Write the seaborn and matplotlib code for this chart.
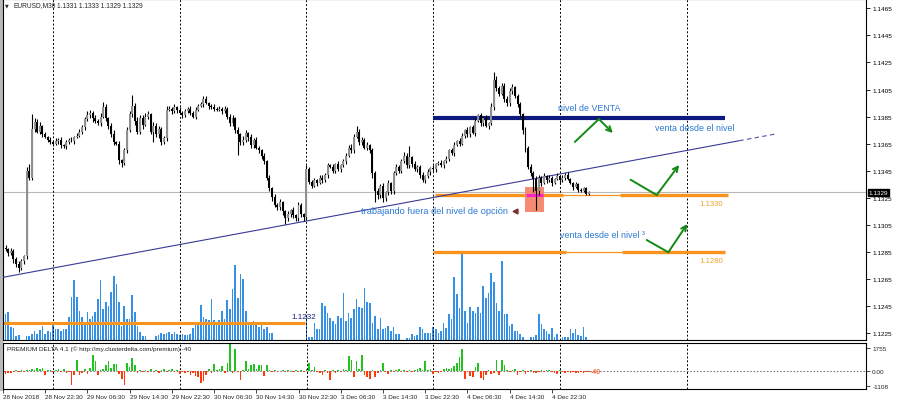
import numpy as np
import pandas as pd
import matplotlib
matplotlib.use("Agg")
import matplotlib.pyplot as plt
import matplotlib.transforms as mtransforms
from matplotlib.patches import Rectangle
import seaborn as sns

# ---------------- data (EURUSD M30, bar index 0 = 28 Nov 15:00) ----------------
first_open = 1.1288
close = [
    1.1287, 1.1284, 1.1286, 1.1280, 1.1276, 1.1273, 1.1278, 1.1282, 1.1345, 1.1340,
    1.1376, 1.1381, 1.1374, 1.1378, 1.1372, 1.1370, 1.1368, 1.1366, 1.1365, 1.1367,
    1.1368, 1.1364, 1.1363, 1.1366, 1.1368, 1.1367, 1.1370, 1.1371, 1.1374, 1.1377,
    1.1383, 1.1386, 1.1388, 1.1384, 1.1382, 1.1380, 1.1385, 1.1392, 1.1384, 1.1378,
    1.1372, 1.1366, 1.1365, 1.1353, 1.1351, 1.1360, 1.1375, 1.1387, 1.1393, 1.1382,
    1.1374, 1.1384, 1.1379, 1.1385, 1.1387, 1.1374, 1.1378, 1.1372, 1.1376, 1.1366,
    1.1369, 1.1390, 1.1391, 1.1389, 1.1392, 1.1390, 1.1388, 1.1386, 1.1389, 1.1391,
    1.1388, 1.1385, 1.1390, 1.1393, 1.1394, 1.1398, 1.1395, 1.1393, 1.1392, 1.1391,
    1.1390, 1.1391, 1.1389, 1.1391, 1.1385, 1.1380, 1.1384, 1.1375, 1.1372, 1.1366,
    1.1368, 1.1373, 1.1370, 1.1364, 1.1368, 1.1362, 1.1360, 1.1356, 1.1352, 1.1340,
    1.1332, 1.1326, 1.1320, 1.1318, 1.1322, 1.1315, 1.1310, 1.1313, 1.1316, 1.1312,
    1.1310, 1.1320, 1.1313, 1.1311, 1.1346, 1.1337, 1.1334, 1.1338, 1.1336, 1.1340,
    1.1338, 1.1342, 1.1349, 1.1348, 1.1345, 1.1350, 1.1346, 1.1349, 1.1352, 1.1356,
    1.1362, 1.1360, 1.1370, 1.1374, 1.1366, 1.1368, 1.1362, 1.1364, 1.1360, 1.1343,
    1.1330, 1.1327, 1.1334, 1.1325, 1.1329, 1.1336, 1.1330, 1.1343, 1.1348, 1.1345,
    1.1352, 1.1356, 1.1349, 1.1355, 1.1350, 1.1346, 1.1348, 1.1342, 1.1338, 1.1341,
    1.1344, 1.1347, 1.1346, 1.1350, 1.1351, 1.1349, 1.1352, 1.1354, 1.1360, 1.1358,
    1.1364, 1.1367, 1.1365, 1.1371, 1.1375, 1.1372, 1.1377, 1.1373, 1.1382, 1.1386,
    1.1380, 1.1384, 1.1378, 1.1380, 1.1392, 1.1412, 1.1406, 1.1402, 1.1408, 1.1398,
    1.1395, 1.1404, 1.1407, 1.1400, 1.1394, 1.1387, 1.1375, 1.1362, 1.1348, 1.1343,
    1.1339, 1.1330, 1.1340, 1.1336, 1.1341, 1.1338, 1.1340, 1.1336, 1.1339, 1.1341,
    1.1338, 1.1340, 1.1342, 1.1339, 1.1336, 1.1333, 1.1335, 1.1331, 1.1330, 1.1332,
    1.1328, 1.1329,
]
wick_up_pips = [
    2, 1, 2, 1, 1, 2, 2, 1, 3, 5, 11, 3, 2, 3, 1, 2, 1, 2, 1, 2,
    1, 2, 1, 2, 1, 2, 1, 2, 2, 2, 2, 3, 2, 1, 2, 1, 3, 4, 2, 1,
    2, 3, 1, 2, 1, 2, 2, 2, 8, 2, 3, 2, 2, 3, 2, 1, 3, 2, 2, 1,
    2, 3, 2, 1, 2, 1, 2, 1, 2, 1, 2, 1, 2, 1, 2, 2, 2, 1, 1, 2,
    1, 2, 1, 2, 1, 2, 2, 1, 2, 1, 3, 2, 1, 2, 1, 2, 1, 1, 2, 1,
    2, 1, 2, 1, 2, 1, 1, 2, 1, 2, 1, 2, 1, 1, 3, 2, 1, 2, 1, 2,
    2, 1, 2, 1, 2, 1, 2, 1, 2, 2, 2, 3, 2, 4, 2, 2, 1, 2, 1, 2,
    2, 2, 1, 2, 1, 2, 1, 2, 2, 1, 2, 3, 2, 8, 1, 2, 1, 1, 2, 1,
    2, 1, 2, 1, 1, 2, 1, 2, 1, 2, 2, 1, 2, 2, 1, 2, 1, 2, 2, 1,
    2, 1, 2, 1, 3, 6, 3, 2, 2, 2, 2, 2, 2, 1, 2, 2, 1, 2, 1, 2,
    2, 2, 2, 1, 2, 1, 2, 1, 1, 2, 1, 2, 1, 2, 1, 1, 2, 1, 1, 1,
    1, 1,
]
wick_dn_pips = [
    1, 2, 1, 3, 2, 3, 1, 2, 2, 2, 2, 2, 1, 2, 2, 1, 2, 1, 2, 1,
    2, 2, 1, 2, 1, 1, 2, 1, 1, 2, 2, 1, 2, 3, 2, 1, 2, 1, 2, 2,
    2, 2, 1, 3, 3, 2, 2, 1, 2, 3, 2, 2, 3, 1, 2, 2, 8, 2, 3, 2,
    1, 2, 1, 2, 1, 2, 1, 2, 1, 1, 2, 1, 2, 1, 1, 2, 1, 2, 1, 2,
    1, 1, 2, 1, 2, 2, 2, 2, 15, 2, 2, 2, 3, 2, 2, 1, 2, 2, 2, 2,
    2, 3, 2, 2, 2, 3, 4, 2, 2, 2, 2, 2, 2, 3, 2, 2, 2, 1, 2, 1,
    2, 1, 2, 1, 2, 2, 1, 2, 1, 2, 1, 2, 2, 1, 2, 2, 1, 2, 2, 3,
    8, 3, 2, 3, 2, 2, 2, 2, 1, 2, 2, 1, 2, 2, 2, 1, 2, 2, 1, 2,
    1, 2, 1, 2, 1, 1, 2, 1, 2, 1, 2, 1, 2, 1, 2, 2, 2, 1, 2, 1,
    2, 2, 1, 2, 1, 2, 2, 2, 1, 2, 2, 2, 2, 1, 2, 2, 3, 3, 2, 2,
    10, 14, 3, 2, 1, 2, 1, 2, 1, 1, 2, 1, 2, 1, 1, 2, 1, 2, 1, 1,
    1, 1,
]
volume = [
    26, 28, 13, 12, 4, 5, 0, 0, 4, 4,
    6, 9, 6, 10, 14, 6, 9, 8, 15, 11,
    11, 9, 11, 11, 23, 43, 60, 43, 29, 23,
    18, 28, 21, 24, 28, 41, 60, 31, 38, 34,
    48, 64, 56, 38, 14, 34, 21, 21, 45, 28,
    14, 8, 4, 4, 0, 0, 0, 4, 5, 7,
    6, 7, 8, 6, 8, 6, 5, 6, 5, 5,
    6, 12, 17, 18, 35, 23, 21, 20, 41, 20,
    18, 20, 29, 21, 40, 31, 51, 75, 42, 66,
    61, 29, 18, 17, 19, 15, 13, 18, 11, 13,
    7, 7, 0, 0, 0, 0, 0, 0, 0, 0,
    0, 0, 0, 0, 24, 3, 3, 17, 11, 11,
    37, 34, 27, 22, 19, 16, 24, 22, 47, 19,
    27, 22, 31, 41, 33, 32, 52, 38, 37, 17,
    24, 11, 22, 11, 12, 14, 9, 13, 6, 6,
    0, 0, 2, 2, 6, 4, 5, 13, 11, 7,
    7, 7, 13, 11, 7, 9, 17, 12, 26, 21,
    63, 46, 32, 87, 29, 17, 33, 29, 27, 33,
    27, 54, 42, 47, 67, 58, 37, 29, 79, 26,
    26, 14, 16, 9, 9, 6, 3, 0, 0, 3,
    3, 5, 26, 16, 11, 9, 6, 12, 3, 6,
    0, 3, 3, 3, 11, 7, 11, 5, 4, 13,
    3, 0,
]
delta_units_per_px = 76
delta = [
    -3, -2, -2, -1, 1, -1, 1, -1, 1, 1,
    2, 1, 3, 2, 3, -4, 1, 1, -1, 1,
    2, -1, 2, -2, -1, -14, -4, 11, -4, -2,
    2, -3, 3, 16, 10, -4, 1, 2, 6, 10,
    3, 7, 7, -3, -8, -14, 8, 4, 13, 6,
    -2, 1, -1, 1, -1, 2, -1, 1, -2, 1,
    2, -1, 1, 2, -1, 1, -3, -1, -2, -1,
    -4, -2, -5, -6, -12, -10, -4, 2, -2, 7,
    1, 2, 5, -2, 8, 28, -2, 22, -1, -9,
    1, 10, 2, 6, 7, 2, 6, 6, -5, 6,
    1, -1, 1, -1, 0, 1, -1, 1, 0, -1,
    1, -1, 1, -1, 2, 8, 1, 4, -1, -2,
    -4, 1, -2, -9, 1, -2, 1, -1, 2, 1,
    15, 11, -6, 10, 2, 16, -4, -6, -8, 1,
    -6, -2, 1, 8, -1, -3, 1, -1, 1, 2,
    -1, 1, -1, 1, -1, 1, 2, 3, 1, 10,
    1, 2, -3, -1, -2, -1, 2, 3, 2, 3,
    5, 8, 14, 22, -8, -1, -5, -6, 4, 8,
    -7, -9, -4, 1, -3, -2, 11, -4, 11, 6,
    1, -1, 1, 2, -4, -1, 1, -3, -1, 1,
    -2, -2, -1, 1, -1, 1, 1, -1, -2, -3,
    1, -1, -2, -1, -2, -1, -2, -2, -1, -2,
    -1, -1,
]

price_ticks = [1.1225, 1.1245, 1.1265, 1.1285, 1.1305, 1.1325, 1.1345,
               1.1365, 1.1385, 1.1405, 1.1425, 1.1445, 1.1465]
time_labels = ["28 Nov 2018", "28 Nov 22:30", "29 Nov 06:30", "29 Nov 14:30",
               "29 Nov 22:30", "30 Nov 06:30", "30 Nov 14:30", "30 Nov 22:30",
               "3 Dec 06:30", "3 Dec 14:30", "3 Dec 22:30", "4 Dec 06:30",
               "4 Dec 14:30", "4 Dec 22:30"]
time_label_bars = [-1, 15, 31, 47, 63, 79, 95, 111, 127, 143, 159, 175, 191, 207]
day_separator_bars = [18, 66, 114, 162, 210, 258]
last_price = 1.1329
delta_last = -40

# drawn objects (bar index, price)
trend_bars = [-0.95, 291.5]
trend_prices = [1.12663, 1.13721]
trend_solid_end = 278
sell_level = 1.1384
sell_range = [162, 272.5]
opt_level_1330 = 1.1327
opt_level_1280 = 1.12847
opt_level_1232 = 1.12322
opt_1330_segments = [(162.7, 211.2, "thick"), (211.2, 232.8, "thin"), (232.8, 273.7, "thick")]
opt_1280_segments = [(162.0, 212.5, "thick"), (212.5, 233.5, "thin"), (233.5, 272.5, "thick")]
opt_1232_range = [-0.95, 113.4]
zone_bars = [196.9, 204.0]
zone_prices = [1.13146, 1.13330]
arrow_paths = [
    [(215.7, 1.13663), (224.8, 1.13832), (230.1, 1.13729)],
    [(236.8, 1.13384), (246.7, 1.13271), (255.2, 1.13493)],
    [(242.9, 1.12939), (251.1, 1.12848), (258.3, 1.13057)],
]

# ---------------- style ----------------
sns.set_theme(style="white")
plt.rcParams['font.family'] = ['Liberation Sans', 'DejaVu Sans']

W, H = 900, 402
fig = plt.figure(figsize=(W / 100, H / 100), dpi=100)
fig.patch.set_facecolor('white')

ax = fig.add_axes([3 / W, 1 - 341 / H, 863 / W, 341 / H])
axv = ax.twinx()
ax.set_zorder(axv.get_zorder() + 1)
ax.patch.set_visible(False)

n = len(close)
idx = np.arange(n)
opens = np.array([first_open] + close[:-1])
closes = np.array(close)
highs = np.maximum(opens, closes) + np.array(wick_up_pips) * 0.0001
lows = np.minimum(opens, closes) - np.array(wick_dn_pips) * 0.0001
candles = pd.DataFrame({"bar": idx, "open": opens, "close": closes, "high": highs, "low": lows})

# volume histogram (behind the price)
vol_df = pd.DataFrame({"bar": np.arange(len(volume)), "volume": volume})
sns.barplot(data=vol_df, x="bar", y="volume", native_scale=True, ax=axv,
            color="#3590e6", saturation=1, width=0.62, errorbar=None, linewidth=0)
axv.set_ylim(0, 341)
axv.set_yticks([])
axv.set_xlabel("")
axv.set_ylabel("")
for s in axv.spines.values():
    s.set_visible(False)

# guide lines
ax.axhline(last_price, color="#b8b8b8", lw=0.8, zorder=1)
for b in day_separator_bars:
    ax.axvline(b, color="black", lw=0.7, ls=(0, (2, 2)), zorder=1)

# option level lines
ax.plot(opt_1232_range, [opt_level_1232] * 2, color="#f7931e", lw=2.2,
        solid_capstyle="butt", zorder=2)
for lvl, segs in [(opt_level_1330, opt_1330_segments), (opt_level_1280, opt_1280_segments)]:
    for x0, x1, kind in segs:
        ax.plot([x0, x1], [lvl, lvl], color="#f7931e", lw=2.4 if kind == "thick" else 0.9,
                solid_capstyle="butt", zorder=2)

# zone rectangle
ax.add_patch(Rectangle((zone_bars[0], zone_prices[0]), zone_bars[1] - zone_bars[0],
                       zone_prices[1] - zone_prices[0], facecolor="#f4856a",
                       edgecolor="none", alpha=0.95, zorder=2.2))
ax.plot([zone_bars[0] + 0.4, zone_bars[1] - 0.4], [opt_level_1330] * 2, color="#ff22c8",
        lw=2.2, solid_capstyle="butt", zorder=2.3)

# sell level
ax.plot(sell_range, [sell_level] * 2, color="#0b1a7c", lw=3.0, solid_capstyle="butt", zorder=2.5)

# trend line
t_end = np.interp(trend_solid_end, trend_bars, trend_prices)
ax.plot([trend_bars[0], trend_solid_end], [trend_prices[0], t_end], color="#3a3a98", lw=0.8, zorder=2.6)
ax.plot([trend_solid_end, trend_bars[1]], [t_end, trend_prices[1]], color="#5050b0", lw=0.8,
        ls=(0, (4, 3)), zorder=2.6)

# candles
ax.vlines(candles["bar"], candles["low"], candles["high"], color="black", lw=0.8, zorder=3)
body_bottom = np.minimum(candles["open"], candles["close"])
body_h = np.maximum(np.abs(candles["close"] - candles["open"]), 0.00004)
body_col = np.where(candles["close"] >= candles["open"], "#8f8f8f", "#000000")
ax.bar(candles["bar"], body_h, bottom=body_bottom, width=0.75, color=body_col, linewidth=0, zorder=4)

# green arrows
for path in arrow_paths:
    (xa, ya), (xb, yb), (xc, yc) = path
    ax.plot([xa, xb], [ya, yb], color="#138a13", lw=1.4, zorder=5, solid_capstyle="round")
    ax.annotate("", xy=(xc, yc), xytext=(xb, yb),
                arrowprops=dict(arrowstyle="->", color="#138a13", lw=1.4,
                                mutation_scale=9, shrinkA=0, shrinkB=0), zorder=5)

# texts
txt_blue = "#2a7ad2"
ax.text(209.3, 1.13920, "nivel de VENTA", color=txt_blue, fontsize=6.4, va="center", ha="left", zorder=6)
ax.text(246.0, 1.13773, "venta desde el nivel", color=txt_blue, fontsize=6.4, va="center", ha="left", zorder=6)
ax.text(134.5, 1.13160, "trabajando fuera del nivel de opción", color=txt_blue, fontsize=6.7,
        va="center", ha="left", zorder=6)
ax.text(210.0, 1.12976, "venta desde el nivel ³", color=txt_blue, fontsize=6.4, va="center", ha="left", zorder=6)
ax.text(263.0, 1.13212, "1.1330", color="#f0a030", fontsize=5.6, va="center", ha="left", zorder=6)
ax.text(263.0, 1.12784, "1.1280", color="#f0a030", fontsize=5.6, va="center", ha="left", zorder=6)
ax.text(108.5, 1.12372, "1.1232", color="#1a2380", fontsize=5.9, va="center", ha="left", zorder=6)
ax.plot([193.0], [1.13153], marker="<", color="#7a3030", markersize=3.5, zorder=6, ls="none")

# axes formatting (main)
ax.set_xlim(-0.95, 326)
ax.set_ylim(1.12200, 1.14719)
ax.set_xticks([])
ax.yaxis.tick_right()
ax.set_yticks(price_ticks)
ax.set_yticklabels([f"{p:.4f}" for p in price_ticks])
ax.tick_params(axis="y", which="both", right=True, left=False, length=3, width=0.6,
               labelsize=4.6, pad=1.5, colors="black")
for s in ax.spines.values():
    s.set_visible(True)
    s.set_color("black")
    s.set_linewidth(0.8)
ax.set_xlabel("")
ax.set_ylabel("")
blend = mtransforms.blended_transform_factory(ax.transAxes, ax.transData)
ax.text(1.003, last_price, f"{last_price:.4f}", transform=blend, color="white", fontsize=4.6,
        va="center", ha="left", zorder=10,
        bbox=dict(facecolor="black", edgecolor="black", boxstyle="square,pad=0.15"))

# ---------------- delta panel ----------------
axd = fig.add_axes([3 / W, 1 - 389.5 / H, 863 / W, 46 / H])
d_df = pd.DataFrame({"bar": np.arange(len(delta)), "delta": delta})
d_df["side"] = np.where(d_df["delta"] >= 0, "buy", "sell")
sns.barplot(data=d_df, x="bar", y="delta", hue="side", native_scale=True, dodge=False,
            palette={"buy": "#22c31e", "sell": "#ff3a0a"}, legend=False, ax=axd,
            saturation=1, width=0.62, errorbar=None, linewidth=0)
axd.axhline(0, color="#808080", lw=0.8, ls=(0, (1.5, 1.5)), zorder=0)
for b in day_separator_bars:
    axd.axvline(b, color="black", lw=0.7, ls=(0, (2, 2)), zorder=0)
axd.set_xlim(-0.95, 326)
axd.set_ylim(-17.2, 28.8)
axd.yaxis.tick_right()
axd.set_yticks([1755 / delta_units_per_px, 0, -1108 / delta_units_per_px])
axd.set_yticklabels(["1755", "0.00", "-1108"])
axd.tick_params(axis="y", right=True, left=False, length=3, width=0.6, labelsize=4.6, pad=1.5)
axd.set_xticks(time_label_bars)
axd.set_xticklabels(time_labels, ha="left")
axd.tick_params(axis="x", bottom=True, length=3, width=0.6, labelsize=4.6, pad=1.0)
axd.set_xlabel("")
axd.set_ylabel("")
for s in axd.spines.values():
    s.set_visible(True)
    s.set_color("black")
    s.set_linewidth(0.8)
axd.text(0.0046, 0.87, "PREMIUM DELTA 4.1 (© http://my.clusterdelta.com/premium) -40",
         transform=axd.transAxes, fontsize=4.6, va="center", ha="left", color="#222222")
axd.text(221.5, delta_last / delta_units_per_px, str(delta_last), color="#ff4010", fontsize=5,
         va="center", ha="left")

# header & window border
fig.text(5 / W, 1 - 6 / H, "▼", fontsize=3.5, va="center", ha="left", family=["DejaVu Sans"])
fig.text(13 / W, 1 - 6 / H, "EURUSD,M30", fontsize=4.8, va="center", ha="left")
fig.text(57 / W, 1 - 6 / H, "1.1331 1.1333 1.1329 1.1329", fontsize=4.8, va="center", ha="left")
fig.patches.append(Rectangle((0, 1 - 392 / H), 2.5 / W, 392 / H, transform=fig.transFigure,
                             facecolor="#b8b8b8", edgecolor="none", zorder=0))

fig.savefig("out.png", dpi=100, facecolor="white")
